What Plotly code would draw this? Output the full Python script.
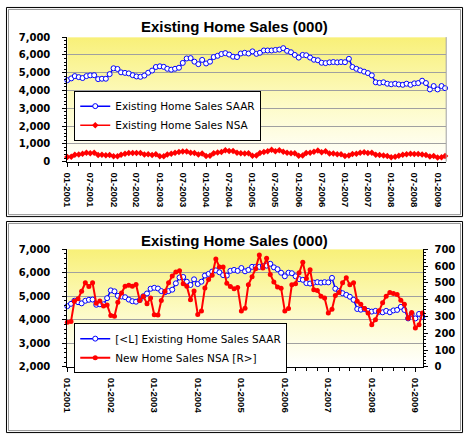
import base64
import pandas as pd
import plotly.graph_objects as go

# ---------------- data ----------------
months = pd.date_range("2001-01-01", periods=99, freq="MS")

saar = [
    4580, 4680, 4810, 4750, 4700, 4810, 4850, 4860, 4640, 4660, 4660, 4920,   # 2001
    5250, 5210, 5020, 4990, 4960, 4860, 4790, 4770, 4840, 5000, 5120, 5320,   # 2002
    5360, 5330, 5220, 5170, 5220, 5280, 5550, 5800, 5820, 5620, 5480, 5720,   # 2003
    5520, 5620, 5880, 5950, 6050, 6100, 6020, 5900, 5880, 6080, 6120, 6080,   # 2004
    6200, 6060, 6120, 6250, 6250, 6250, 6280, 6300, 6380, 6230, 6150, 6000,   # 2005
    5850, 6000, 5980, 5850, 5730, 5700, 5560, 5540, 5580, 5600, 5580, 5600,   # 2006
    5590, 5780, 5320, 5220, 5130, 5060, 4980, 4850, 4460, 4430, 4460, 4380,   # 2007
    4350, 4380, 4340, 4320, 4380, 4320, 4400, 4420, 4550, 4420, 4060, 4250,   # 2008
    4060, 4250, 4130,                                                         # 2009
]

nsa = [
    266, 270, 390, 405, 450, 500, 478, 500, 378, 392, 362, 368,   # 2001
    305, 302, 385, 440, 480, 485, 480, 490, 395, 420, 376, 410,   # 2002
    310, 308, 395, 450, 500, 540, 565, 572, 495, 480, 400, 452,   # 2003
    312, 332, 469, 520, 545, 642, 594, 594, 497, 478, 465, 472,   # 2004
    333, 349, 488, 536, 584, 665, 588, 646, 550, 505, 475, 468,   # 2005
    332, 348, 488, 495, 560, 623, 526, 578, 459, 455, 420, 410,   # 2006
    320, 343, 424, 443, 501, 530, 488, 501, 391, 372, 347, 320,   # 2007
    251, 281, 334, 382, 420, 443, 436, 430, 397, 372, 289, 324,   # 2008
    231, 251, 320,                                                # 2009
]

title_text = "Existing Home Sales (000)"
top_names = ["Existing Home Sales SAAR", "Existing Home Sales NSA"]
bot_names = ["[<L] Existing Home Sales SAAR", "New Home Sales NSA [R>]"]

# ---------------- geometry helpers ----------------
W, H = 466, 441
def fx(p): return p / W
def fy(p): return 1 - p / H

TOP = dict(l=63, r=446, t=32, b=160)
BOT = dict(l=63, r=423, t=250, b=371)

BLUE = "#0000FF"
RED = "#FF0000"
GRID = "#A0A0A0"

fig = go.Figure()

blue_marker = dict(symbol="circle", size=5, color="white", line=dict(color=BLUE, width=1))
red_marker = dict(symbol="diamond", size=5, color=RED, line=dict(width=0))

fig.add_trace(go.Scatter(x=months, y=saar, name=top_names[0], xaxis="x", yaxis="y",
                         mode="lines+markers", line=dict(color=BLUE, width=1.5),
                         marker=blue_marker, cliponaxis=False, legend="legend"))
fig.add_trace(go.Scatter(x=months, y=nsa, name=top_names[1], xaxis="x", yaxis="y",
                         mode="lines+markers", line=dict(color=RED, width=1.5),
                         marker=red_marker, cliponaxis=False, legend="legend"))
fig.add_trace(go.Scatter(x=months, y=saar, name=bot_names[0], xaxis="x2", yaxis="y2",
                         mode="lines+markers", line=dict(color=BLUE, width=1.5),
                         marker=blue_marker, cliponaxis=False, legend="legend2"))
fig.add_trace(go.Scatter(x=months, y=nsa, name=bot_names[1], xaxis="x2", yaxis="y3",
                         mode="lines+markers", line=dict(color=RED, width=2),
                         marker=dict(symbol="circle", size=5, color=RED, line=dict(width=0)),
                         cliponaxis=False, legend="legend2"))

ytick_font = dict(family="DejaVu Sans", size=10, color="black", weight="bold")
xtick_font = dict(family="Liberation Sans", size=9.5, color="black", weight="bold")
leg_font = dict(family="DejaVu Sans", size=10.5, color="black")

xrange = ["2001-01-01", "2009-03-10"]

def xaxis(dom, anchor, dtick):
    return dict(domain=dom, anchor=anchor, type="date", range=xrange,
                tickformat="%m-%Y", dtick=dtick, tick0="2001-01-01", tickangle=90,
                ticks="outside", ticklen=4, tickcolor="black", showline=True,
                linecolor="black", linewidth=1, showgrid=False, tickfont=xtick_font,
                ticklabelstandoff=4,
                minor=dict(dtick="M3", tick0="2001-01-01", ticks="outside", ticklen=3,
                           tickcolor="black", showgrid=False),
                fixedrange=True)

def yaxis(dom, anchor, rng, dtick, minor_dtick, side="left", grid=True, fmt=",d",
          standoff=10):
    d = dict(domain=dom, anchor=anchor, range=rng, dtick=dtick, tickformat=fmt,
             side=side, showgrid=grid, gridcolor=GRID, gridwidth=1, showline=True,
             linecolor="black", linewidth=1, ticks="outside", ticklen=4,
             tickcolor="black", tickfont=ytick_font, zeroline=False,
             ticklabelstandoff=standoff, fixedrange=True,
             minor=dict(dtick=minor_dtick, ticks="outside", ticklen=2,
                        tickcolor="black", showgrid=False))
    return d

# ---------------- gradient backgrounds ----------------
svg = ('<svg xmlns="http://www.w3.org/2000/svg" width="10" height="100" '
       'preserveAspectRatio="none"><defs><linearGradient id="g" x1="0" y1="0" x2="0" y2="1">'
       '<stop offset="0" stop-color="#F8F078"/><stop offset="0.55" stop-color="#FDFBC8"/>'
       '<stop offset="1" stop-color="#FFFFFF"/></linearGradient></defs>'
       '<rect width="10" height="100" fill="url(#g)"/></svg>')
src = "data:image/svg+xml;base64," + base64.b64encode(svg.encode()).decode()

images = []
for P in (TOP, BOT):
    images.append(dict(source=src, xref="paper", yref="paper", x=fx(P["l"]), y=fy(P["t"]),
                       sizex=fx(P["r"]) - fx(P["l"]), sizey=(P["b"] - P["t"]) / H,
                       xanchor="left", yanchor="top", sizing="stretch", layer="below"))

# ---------------- frames ----------------
def rect(x0, y0, x1, y1, color, width=1):
    return dict(type="rect", xref="paper", yref="paper", x0=fx(x0), x1=fx(x1),
                y0=fy(y0), y1=fy(y1), line=dict(color=color, width=width),
                fillcolor="rgba(0,0,0,0)", layer="above")

shapes = [
    rect(1.5, 1.5, 462.5, 216.5, "black"),
    rect(3.5, 3.5, 460.5, 214.5, "#909090"),
    rect(1.5, 221.5, 462.5, 438.5, "black"),
    rect(3.5, 223.5, 460.5, 436.5, "#909090"),
    dict(type="line", xref="paper", yref="paper", x0=fx(TOP["r"]), x1=fx(TOP["r"]),
         y0=fy(TOP["b"]), y1=fy(TOP["t"]), line=dict(color=GRID, width=1)),
]

title_font = dict(family="Liberation Sans", size=15, color="black", weight="bold")
annotations = [
    dict(text=title_text, xref="paper", yref="paper", x=fx(232), y=fy(21),
         xanchor="center", yanchor="middle", showarrow=False, font=title_font),
    dict(text=title_text, xref="paper", yref="paper", x=fx(232), y=fy(241),
         xanchor="center", yanchor="middle", showarrow=False, font=title_font),
]

fig.update_layout(
    width=W, height=H, margin=dict(l=0, r=0, t=0, b=0),
    paper_bgcolor="white", plot_bgcolor="rgba(0,0,0,0)",
    xaxis=xaxis([fx(TOP["l"]), fx(TOP["r"])], "y", "M6"),
    yaxis=yaxis([fy(TOP["b"]), fy(TOP["t"])], "x", [0, 7000], 1000, 200),
    xaxis2=xaxis([fx(BOT["l"]), fx(BOT["r"])], "y2", "M12"),
    yaxis2=yaxis([fy(BOT["b"]), fy(BOT["t"])], "x2", [2000, 7000], 1000, 200),
    yaxis3=dict(yaxis([fy(BOT["b"]), fy(BOT["t"])], "x2", [0, 700], 100, 20,
                      side="right", grid=False, fmt="d", standoff=4), overlaying="y2"),
    legend=dict(x=fx(70), y=fy(87), xanchor="left", yanchor="top", bgcolor="white",
                bordercolor="black", borderwidth=1, font=leg_font, tracegroupgap=0,
                itemwidth=30),
    legend2=dict(x=fx(70), y=fy(326), xanchor="left", yanchor="top", bgcolor="white",
                 bordercolor="black", borderwidth=1, font=leg_font, tracegroupgap=0,
                 itemwidth=30),
    images=images, shapes=shapes, annotations=annotations,
    showlegend=True,
)

fig.write_html("out.html", config={"displayModeBar": False},
               post_script="document.body.style.margin='0';document.body.style.padding='0';")
